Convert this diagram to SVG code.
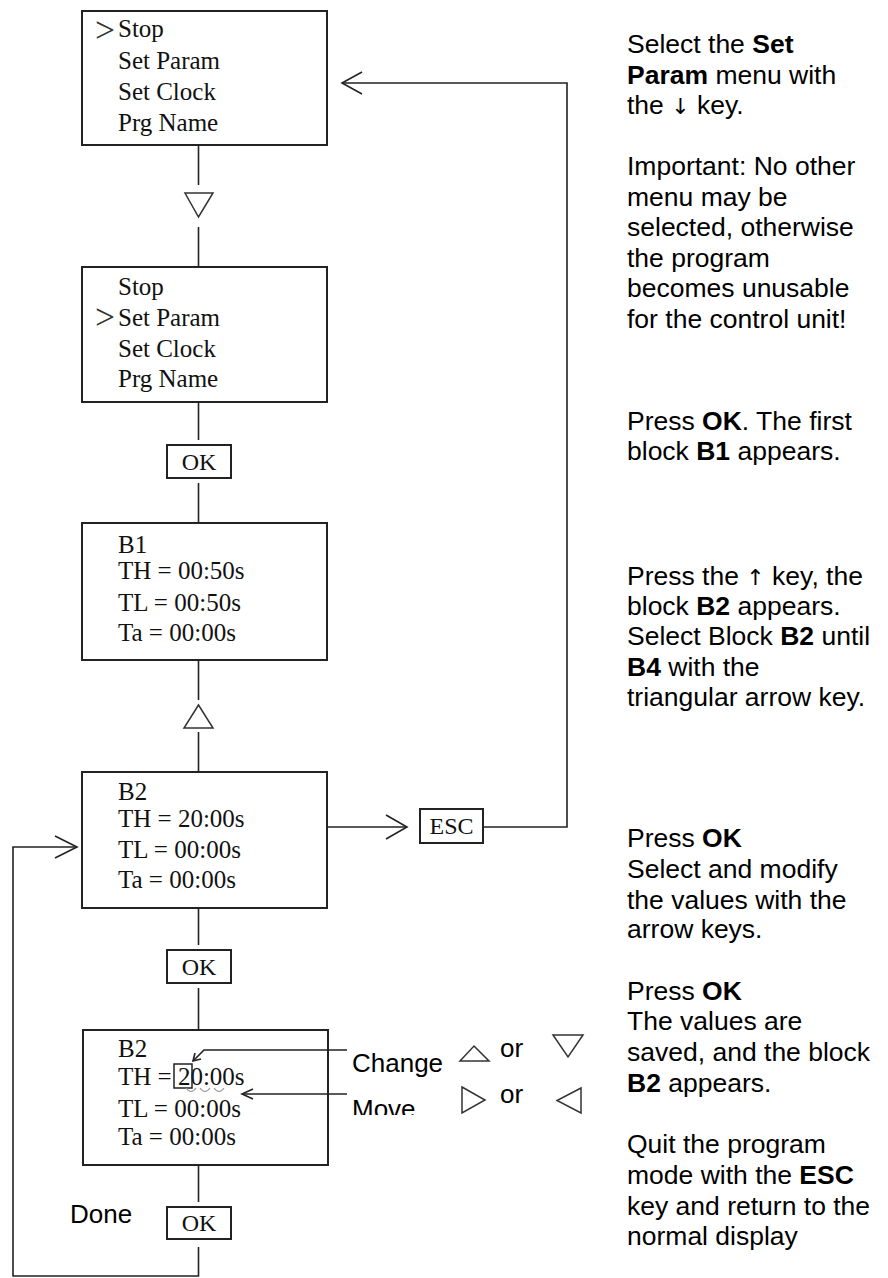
<svg xmlns="http://www.w3.org/2000/svg" width="888" height="1278" viewBox="0 0 888 1278">
<defs>
<style>
.box{fill:#fff;stroke:#222;stroke-width:2}
.ln{fill:none;stroke:#222;stroke-width:1.6}
.tri{fill:none;stroke:#333;stroke-width:1.5;stroke-linejoin:miter}
.lcd{font-family:"Liberation Serif","Times New Roman",serif;font-size:25px;fill:#111}
.key{font-family:"Liberation Serif","Times New Roman",serif;font-size:24px;fill:#111;text-anchor:middle}
.sel{font-family:"Liberation Serif","Times New Roman",serif;font-size:35px;fill:#333}
.note{font-family:"Liberation Sans",Arial,sans-serif;font-size:26.5px;fill:#000}
.lbl{font-family:"Liberation Sans",Arial,sans-serif;font-size:26px;fill:#000}
.arr{font-family:"DejaVu Sans",sans-serif;font-size:22px;fill:#000}
.b{font-weight:bold}
</style>
<clipPath id="moveclip"><rect x="340" y="1090" width="120" height="25"/></clipPath>
</defs>
<rect width="888" height="1278" fill="#fff"/>

<g id="connectors">
<line class="ln" x1="198.5" y1="145" x2="198.5" y2="185"/>
<line class="ln" x1="198.5" y1="227" x2="198.5" y2="267"/>
<line class="ln" x1="198.5" y1="402" x2="198.5" y2="440"/>
<line class="ln" x1="198.5" y1="483" x2="198.5" y2="523"/>
<line class="ln" x1="198.5" y1="660" x2="198.5" y2="700"/>
<line class="ln" x1="198.5" y1="732" x2="198.5" y2="772"/>
<line class="ln" x1="198.5" y1="908" x2="198.5" y2="945"/>
<line class="ln" x1="198.5" y1="988" x2="198.5" y2="1030"/>
<line class="ln" x1="198.5" y1="1165" x2="198.5" y2="1202"/>
<polyline class="ln" points="198.5,1247 198.5,1276 13,1276 13,847 77,847"/>
<polyline class="ln" points="55,836 77,847 55,858"/>
<line class="ln" x1="327" y1="827" x2="407" y2="827"/>
<polyline class="ln" points="386,815 407,827 386,839"/>
<polyline class="ln" points="483,827 567,827 567,83 342,83"/>
<polyline class="ln" points="362,72 342,83 362,94"/>
</g>

<g id="tri-down">
<polygon class="tri" points="185,193 213,193 198.5,217"/>
</g>
<g id="tri-up">
<polygon class="tri" points="198.5,705 184,728 213,728"/>
</g>

<g id="menu1">
<rect class="box" x="82" y="11" width="245" height="134"/>
<text class="sel" x="95" y="42" textLength="20" lengthAdjust="spacingAndGlyphs">&gt;</text>
<text class="lcd" x="118" y="37">Stop</text>
<text class="lcd" x="118" y="69">Set Param</text>
<text class="lcd" x="118" y="100">Set Clock</text>
<text class="lcd" x="118" y="131">Prg Name</text>
</g>

<g id="menu2">
<rect class="box" x="82" y="267" width="245" height="135"/>
<text class="lcd" x="118" y="295">Stop</text>
<text class="sel" x="95" y="329" textLength="20" lengthAdjust="spacingAndGlyphs">&gt;</text>
<text class="lcd" x="118" y="326">Set Param</text>
<text class="lcd" x="118" y="357">Set Clock</text>
<text class="lcd" x="118" y="387">Prg Name</text>
</g>

<g id="ok1">
<rect class="box" x="167" y="445" width="64" height="33"/>
<text class="key" x="199" y="470">OK</text>
</g>

<g id="b1">
<rect class="box" x="82" y="523" width="245" height="137"/>
<text class="lcd" x="118" y="553">B1</text>
<text class="lcd" x="118" y="579">TH = 00:50s</text>
<text class="lcd" x="118" y="611">TL = 00:50s</text>
<text class="lcd" x="118" y="641">Ta = 00:00s</text>
</g>

<g id="b2">
<rect class="box" x="82" y="772" width="245" height="136"/>
<text class="lcd" x="118" y="800">B2</text>
<text class="lcd" x="118" y="827">TH = 20:00s</text>
<text class="lcd" x="118" y="858">TL = 00:00s</text>
<text class="lcd" x="118" y="888">Ta = 00:00s</text>
</g>

<g id="esc">
<rect class="box" x="420" y="809" width="63" height="34"/>
<text class="key" x="451.5" y="834">ESC</text>
</g>

<g id="ok2">
<rect class="box" x="167" y="950" width="64" height="33"/>
<text class="key" x="199" y="975">OK</text>
</g>

<g id="b2edit">
<rect class="box" x="83" y="1030" width="245" height="135"/>
<text class="lcd" x="118" y="1057">B2</text>
<text class="lcd" x="118" y="1085">TH = 20:00s</text>
<rect x="174" y="1064" width="18" height="24" fill="none" stroke="#222" stroke-width="1.5"/>
<path d="M186,1088 q5,7 10,0 M200,1088 q5,7 10,0 M214,1088 q5,7 10,0" fill="none" stroke="#999" stroke-width="1.2"/>
<text class="lcd" x="118" y="1117">TL = 00:00s</text>
<text class="lcd" x="118" y="1145">Ta = 00:00s</text>
</g>

<g id="ok3">
<rect class="box" x="167" y="1207" width="64" height="32"/>
<text class="key" x="199" y="1231">OK</text>
</g>

<g id="done">
<text class="lbl" x="70" y="1223">Done</text>
</g>

<g id="change">
<polyline class="ln" points="347,1050 204,1050 193,1061"/>
<polyline class="ln" points="201,1059 193,1061 195,1053"/>
<text class="lbl" x="352" y="1072">Change</text>
<polygon class="tri" points="474,1046 489,1061 460,1061"/>
<text class="lbl" x="500" y="1057">or</text>
<polygon class="tri" points="553,1035 583,1035 568,1057"/>
</g>

<g id="move">
<line class="ln" x1="347" y1="1094" x2="242" y2="1094"/>
<polyline class="ln" points="253,1089 242,1094 253,1099"/>
<text class="lbl" x="352" y="1118" clip-path="url(#moveclip)">Move</text>
<polygon class="tri" points="462,1087 485,1100 462,1113"/>
<text class="lbl" x="500" y="1103">or</text>
<polygon class="tri" points="581,1088 557,1100.5 581,1113"/>
</g>

<g id="notes">
<text class="note" x="627" y="53">Select the <tspan class="b">Set</tspan></text>
<text class="note" x="627" y="83.5"><tspan class="b">Param</tspan> menu with</text>
<text class="note" x="627" y="114">the <tspan class="arr">↓</tspan> key.</text>
<text class="note" x="627" y="175">Important: No other</text>
<text class="note" x="627" y="205.5">menu may be</text>
<text class="note" x="627" y="236">selected, otherwise</text>
<text class="note" x="627" y="266.5">the program</text>
<text class="note" x="627" y="297">becomes unusable</text>
<text class="note" x="627" y="328">for the control unit!</text>
<text class="note" x="627" y="430">Press <tspan class="b">OK</tspan>. The first</text>
<text class="note" x="627" y="460">block <tspan class="b">B1</tspan> appears.</text>
<text class="note" x="627" y="585">Press the <tspan class="arr">↑</tspan> key, the</text>
<text class="note" x="627" y="615">block <tspan class="b">B2</tspan> appears.</text>
<text class="note" x="627" y="645">Select Block <tspan class="b">B2</tspan> until</text>
<text class="note" x="627" y="676"><tspan class="b">B4</tspan> with the</text>
<text class="note" x="627" y="706">triangular arrow key.</text>
<text class="note" x="627" y="847">Press <tspan class="b">OK</tspan></text>
<text class="note" x="627" y="878">Select and modify</text>
<text class="note" x="627" y="909">the values with the</text>
<text class="note" x="627" y="938">arrow keys.</text>
<text class="note" x="627" y="1000">Press <tspan class="b">OK</tspan></text>
<text class="note" x="627" y="1030">The values are</text>
<text class="note" x="627" y="1061">saved, and the block</text>
<text class="note" x="627" y="1092"><tspan class="b">B2</tspan> appears.</text>
<text class="note" x="627" y="1153">Quit the program</text>
<text class="note" x="627" y="1184">mode with the <tspan class="b">ESC</tspan></text>
<text class="note" x="627" y="1215">key and return to the</text>
<text class="note" x="627" y="1245">normal display</text>
</g>
</svg>
